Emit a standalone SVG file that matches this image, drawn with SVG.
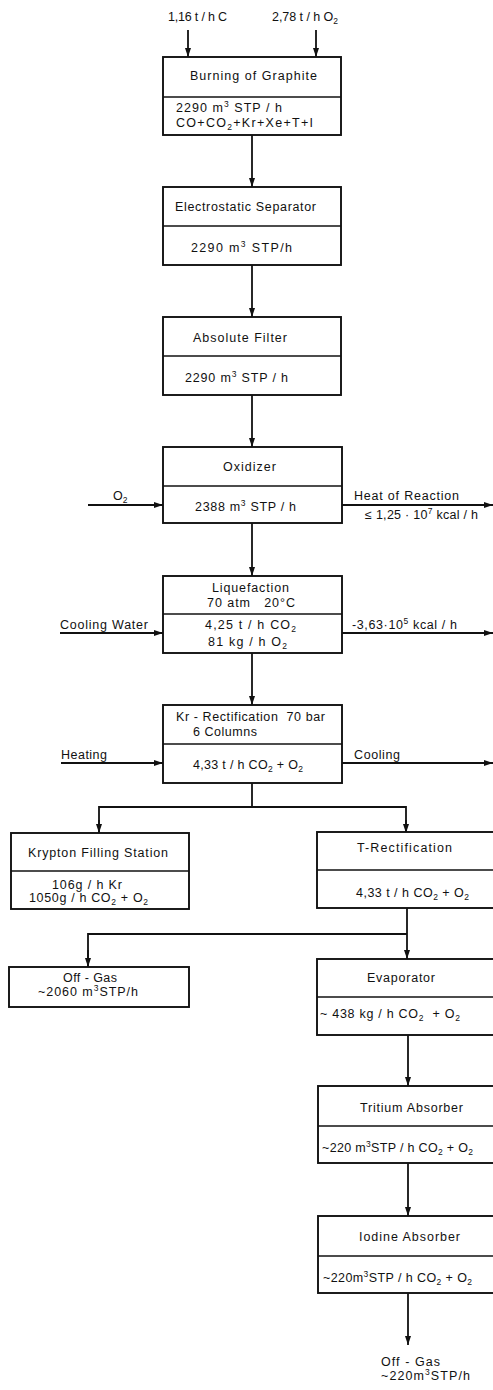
<svg xmlns="http://www.w3.org/2000/svg" width="493" height="1390" viewBox="0 0 493 1390">
<defs>
<style>
.box{fill:#fff;stroke:#111;stroke-width:1.9}
.div{stroke:#111;stroke-width:1.6}
.ln{fill:none;stroke:#111;stroke-width:1.8}
text{font-family:"Liberation Sans","DejaVu Sans",sans-serif;font-size:12.5px;fill:#111}
.s{font-size:8.5px}
</style>
<marker id="ah" viewBox="0 0 9 6" markerWidth="9" markerHeight="6" refX="9" refY="3" orient="auto" markerUnits="userSpaceOnUse">
<path d="M0,0 L9,3 L0,6 z" fill="#111"/>
</marker>
</defs>
<rect width="493" height="1390" fill="#fff"/>

<g id="connectors">
<line class="ln" x1="188" y1="30" x2="188" y2="57" marker-end="url(#ah)"/>
<line class="ln" x1="316" y1="30" x2="316" y2="57" marker-end="url(#ah)"/>
<line class="ln" x1="252" y1="135" x2="252" y2="187" marker-end="url(#ah)"/>
<line class="ln" x1="252" y1="265" x2="252" y2="317" marker-end="url(#ah)"/>
<line class="ln" x1="252" y1="395" x2="252" y2="447" marker-end="url(#ah)"/>
<line class="ln" x1="88" y1="505" x2="163" y2="505" marker-end="url(#ah)"/>
<line class="ln" x1="342" y1="505" x2="493" y2="505" marker-end="url(#ah)"/>
<line class="ln" x1="252" y1="523" x2="252" y2="576" marker-end="url(#ah)"/>
<line class="ln" x1="60" y1="633" x2="163" y2="633" marker-end="url(#ah)"/>
<line class="ln" x1="342" y1="633" x2="493" y2="633" marker-end="url(#ah)"/>
<line class="ln" x1="252" y1="653" x2="252" y2="705" marker-end="url(#ah)"/>
<line class="ln" x1="61" y1="763" x2="163" y2="763" marker-end="url(#ah)"/>
<line class="ln" x1="342" y1="763" x2="493" y2="763" marker-end="url(#ah)"/>
<polyline class="ln" points="252,783 252,807"/>
<polyline class="ln" points="99,833 99,807 406,807 406,833"/>
<line class="ln" x1="99" y1="820" x2="99" y2="833" marker-end="url(#ah)"/>
<line class="ln" x1="406" y1="820" x2="406" y2="833" marker-end="url(#ah)"/>
<line class="ln" x1="407" y1="908" x2="407" y2="959" marker-end="url(#ah)"/>
<polyline class="ln" points="88,967 88,934 407,934"/>
<line class="ln" x1="88" y1="950" x2="88" y2="967" marker-end="url(#ah)"/>
<line class="ln" x1="408" y1="1035" x2="408" y2="1086" marker-end="url(#ah)"/>
<line class="ln" x1="408" y1="1163" x2="408" y2="1216" marker-end="url(#ah)"/>
<line class="ln" x1="408" y1="1293" x2="408" y2="1345" marker-end="url(#ah)"/>
</g>

<g id="inputs">
<text x="168" y="21" textLength="59" lengthAdjust="spacing">1,16 t / h C</text>
<text x="272" y="21" textLength="66" lengthAdjust="spacing">2,78 t / h O<tspan class="s" dy="3">2</tspan></text>
</g>

<g id="burning">
<rect class="box" x="163" y="57" width="178" height="78"/>
<line class="div" x1="163" y1="97" x2="341" y2="97"/>
<text x="190" y="80" textLength="127" lengthAdjust="spacing">Burning of Graphite</text>
<text x="176" y="112" textLength="106" lengthAdjust="spacing">2290 m<tspan class="s" dy="-5">3</tspan><tspan dy="5"> STP / h</tspan></text>
<text x="176" y="127" textLength="137" lengthAdjust="spacing">CO+CO<tspan class="s" dy="3">2</tspan><tspan dy="-3">+Kr+Xe+T+I</tspan></text>
</g>

<g id="electrostatic">
<rect class="box" x="163" y="187" width="178" height="78"/>
<line class="div" x1="163" y1="226" x2="341" y2="226"/>
<text x="175" y="211" textLength="141" lengthAdjust="spacing">Electrostatic Separator</text>
<text x="191" y="252" textLength="101" lengthAdjust="spacing">2290 m<tspan class="s" dy="-5">3</tspan><tspan dy="5"> STP/h</tspan></text>
</g>

<g id="filter">
<rect class="box" x="163" y="317" width="178" height="78"/>
<line class="div" x1="163" y1="356" x2="341" y2="356"/>
<text x="193" y="342" textLength="94" lengthAdjust="spacing">Absolute Filter</text>
<text x="185" y="382" textLength="103" lengthAdjust="spacing">2290 m<tspan class="s" dy="-5">3</tspan><tspan dy="5"> STP / h</tspan></text>
</g>

<g id="oxidizer">
<rect class="box" x="163" y="447" width="179" height="76"/>
<line class="div" x1="163" y1="486" x2="342" y2="486"/>
<text x="223" y="471" textLength="53" lengthAdjust="spacing">Oxidizer</text>
<text x="195" y="511" textLength="101" lengthAdjust="spacing">2388 m<tspan class="s" dy="-5">3</tspan><tspan dy="5"> STP / h</tspan></text>
<text x="113" y="500">O<tspan class="s" dy="3">2</tspan></text>
<text x="354" y="500" textLength="105" lengthAdjust="spacing">Heat of Reaction</text>
<text x="365" y="519" textLength="113" lengthAdjust="spacing">≤ 1,25 · 10<tspan class="s" dy="-5">7</tspan><tspan dy="5"> kcal / h</tspan></text>
</g>

<g id="liquefaction">
<rect class="box" x="163" y="576" width="179" height="77"/>
<line class="div" x1="163" y1="614" x2="342" y2="614"/>
<text x="212" y="592" textLength="77" lengthAdjust="spacing">Liquefaction</text>
<text x="207" y="607" xml:space="preserve" textLength="88" lengthAdjust="spacing">70 atm   20°C</text>
<text x="205" y="629" textLength="91" lengthAdjust="spacing">4,25 t / h CO<tspan class="s" dy="3">2</tspan></text>
<text x="208" y="646" textLength="79" lengthAdjust="spacing">81 kg / h O<tspan class="s" dy="3">2</tspan></text>
<text x="60" y="629" textLength="88" lengthAdjust="spacing">Cooling Water</text>
<text x="352" y="629" textLength="105" lengthAdjust="spacing">-3,63·10<tspan class="s" dy="-5">5</tspan><tspan dy="5"> kcal / h</tspan></text>
</g>

<g id="kr-rectification">
<rect class="box" x="163" y="705" width="179" height="78"/>
<line class="div" x1="163" y1="744" x2="342" y2="744"/>
<text x="176" y="721" xml:space="preserve" textLength="149" lengthAdjust="spacing">Kr - Rectification  70 bar</text>
<text x="193" y="736" textLength="64" lengthAdjust="spacing">6 Columns</text>
<text x="193" y="769" textLength="110" lengthAdjust="spacing">4,33 t / h CO<tspan class="s" dy="3">2</tspan><tspan dy="-3"> + O</tspan><tspan class="s" dy="3">2</tspan></text>
<text x="61" y="759" textLength="46" lengthAdjust="spacing">Heating</text>
<text x="354" y="759" textLength="46" lengthAdjust="spacing">Cooling</text>
</g>

<g id="krypton-filling">
<rect class="box" x="11" y="833" width="178" height="76"/>
<line class="div" x1="11" y1="871" x2="189" y2="871"/>
<text x="28" y="857" textLength="140" lengthAdjust="spacing">Krypton Filling Station</text>
<text x="52" y="889" textLength="70" lengthAdjust="spacing">106g / h Kr</text>
<text x="29" y="902" textLength="119" lengthAdjust="spacing">1050g / h CO<tspan class="s" dy="3">2</tspan><tspan dy="-3"> + O</tspan><tspan class="s" dy="3">2</tspan></text>
</g>

<g id="t-rectification">
<rect class="box" x="317" y="832" width="190" height="76"/>
<line class="div" x1="317" y1="870" x2="493" y2="870"/>
<text x="357" y="852" textLength="95" lengthAdjust="spacing">T-Rectification</text>
<text x="356" y="897" textLength="113" lengthAdjust="spacing">4,33 t / h CO<tspan class="s" dy="3">2</tspan><tspan dy="-3"> + O</tspan><tspan class="s" dy="3">2</tspan></text>
</g>

<g id="off-gas-1">
<rect class="box" x="9" y="967" width="180" height="40"/>
<text x="63" y="982" textLength="54" lengthAdjust="spacing">Off - Gas</text>
<text x="38" y="996" textLength="100" lengthAdjust="spacing">~2060 m<tspan class="s" dy="-5">3</tspan><tspan dy="5">STP/h</tspan></text>
</g>

<g id="evaporator">
<rect class="box" x="317" y="959" width="190" height="76"/>
<line class="div" x1="317" y1="997" x2="493" y2="997"/>
<text x="367" y="982" textLength="68" lengthAdjust="spacing">Evaporator</text>
<text x="320" y="1018" xml:space="preserve" textLength="140" lengthAdjust="spacing">~ 438 kg / h CO<tspan class="s" dy="3">2</tspan><tspan dy="-3">  + O</tspan><tspan class="s" dy="3">2</tspan></text>
</g>

<g id="tritium-absorber">
<rect class="box" x="318" y="1086" width="190" height="77"/>
<line class="div" x1="318" y1="1126" x2="493" y2="1126"/>
<text x="360" y="1112" textLength="103" lengthAdjust="spacing">Tritium Absorber</text>
<text x="322" y="1152" textLength="151" lengthAdjust="spacing">~220 m<tspan class="s" dy="-5">3</tspan><tspan dy="5">STP / h CO</tspan><tspan class="s" dy="3">2</tspan><tspan dy="-3"> + O</tspan><tspan class="s" dy="3">2</tspan></text>
</g>

<g id="iodine-absorber">
<rect class="box" x="318" y="1216" width="190" height="77"/>
<line class="div" x1="318" y1="1256" x2="493" y2="1256"/>
<text x="359" y="1241" textLength="101" lengthAdjust="spacing">Iodine Absorber</text>
<text x="323" y="1282" textLength="149" lengthAdjust="spacing">~220m<tspan class="s" dy="-5">3</tspan><tspan dy="5">STP / h CO</tspan><tspan class="s" dy="3">2</tspan><tspan dy="-3"> + O</tspan><tspan class="s" dy="3">2</tspan></text>
</g>

<g id="off-gas-2">
<text x="381" y="1366" textLength="59" lengthAdjust="spacing">Off - Gas</text>
<text x="381" y="1380" textLength="89" lengthAdjust="spacing">~220m<tspan class="s" dy="-5">3</tspan><tspan dy="5">STP/h</tspan></text>
</g>
</svg>
